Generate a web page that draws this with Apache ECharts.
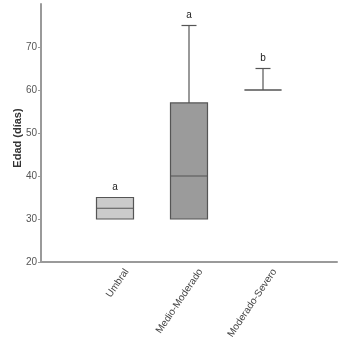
<!DOCTYPE html>
<html><head><meta charset="utf-8">
<script src="https://cdn.jsdelivr.net/npm/echarts@6/dist/echarts.min.js"></script>
<style>html,body{margin:0;padding:0;background:#fff}#c{width:340px;height:337px}</style>
</head><body><div id="c"></div>
<script>
var categories = ['Umbral', 'Medio-Moderado', 'Moderado-Severo'];
var whiskerLow = [30, 30, 60];
var q1 = [30, 30, 60];
var median = [32.5, 40, 60];
var q3 = [35, 57, 60];
var whiskerHigh = [35, 75, 65];
var letters = ['a', 'a', 'b'];
var yTicks = [20, 30, 40, 50, 60, 70];

var fills = ['#cbcbcb', '#9b9b9b', '#ffffff'];
var axisCats = [''].concat(categories).concat(['']);
var data = categories.map(function (c, i) {
  return [i + 1, whiskerLow[i], q1[i], median[i], q3[i], whiskerHigh[i], i];
});

var chart = echarts.init(document.getElementById('c'), null, {renderer: 'canvas'});
chart.setOption({
  animation: false,
  grid: {left: 41, right: 3, top: 4, bottom: 75, outerBoundsMode: 'none', containLabel: false},
  xAxis: {
    type: 'category', data: axisCats, boundaryGap: false,
    axisLine: {lineStyle: {color: '#9a9a9a', width: 2}},
    axisTick: {show: false},
    axisLabel: {interval: 0, rotate: 56, color: '#444', fontSize: 10, fontFamily: 'Liberation Sans',
      margin: 0, verticalAlign: 'top', lineHeight: 28}
  },
  yAxis: {
    type: 'value', min: 20, max: 80, interval: 10,
    name: 'Edad (días)', nameLocation: 'middle', nameGap: 18, nameMoveOverlap: false,
    nameTextStyle: {color: '#333', fontSize: 11, fontFamily: 'Liberation Sans', fontWeight: 'bold',
      verticalAlign: 'bottom', padding: [0, 10, 0, 0]},
    axisLine: {show: true, lineStyle: {color: '#9a9a9a', width: 2}},
    axisTick: {show: true, length: 3, customValues: yTicks, lineStyle: {color: '#9a9a9a'}},
    axisLabel: {customValues: yTicks, color: '#555', fontSize: 10, fontFamily: 'Liberation Sans', margin: 4},
    splitLine: {show: false}
  },
  series: [{
    type: 'custom',
    data: data,
    encode: {x: 0, y: [1, 2, 3, 4, 5]},
    renderItem: function (params, api) {
      var x = api.value(0);
      var i = api.value(6);
      var lo = api.coord([x, api.value(1)]);
      var b1 = api.coord([x, api.value(2)]);
      var md = api.coord([x, api.value(3)]);
      var b3 = api.coord([x, api.value(4)]);
      var hi = api.coord([x, api.value(5)]);
      var bw = api.size([1, 0])[0] * 0.5;
      var cw = 15;
      var cx = lo[0];
      var ls = {stroke: '#555', lineWidth: 1.2, fill: null};
      var ch = [];
      ch.push({type: 'rect', shape: {x: cx - bw / 2, y: b3[1], width: bw, height: Math.max(b1[1] - b3[1], 0)},
        style: {fill: fills[i], stroke: '#555', lineWidth: 1.2}});
      ch.push({type: 'line', shape: {x1: cx - bw / 2, y1: md[1], x2: cx + bw / 2, y2: md[1]}, style: ls});
      if (hi[1] < b3[1] - 0.5) {
        ch.push({type: 'line', shape: {x1: cx, y1: b3[1], x2: cx, y2: hi[1]}, style: ls});
        ch.push({type: 'line', shape: {x1: cx - cw / 2, y1: hi[1], x2: cx + cw / 2, y2: hi[1]}, style: ls});
      }
      if (lo[1] > b1[1] + 0.5) {
        ch.push({type: 'line', shape: {x1: cx, y1: b1[1], x2: cx, y2: lo[1]}, style: ls});
        ch.push({type: 'line', shape: {x1: cx - cw / 2, y1: lo[1], x2: cx + cw / 2, y2: lo[1]}, style: ls});
      }
      ch.push({type: 'text', style: {text: letters[i], x: cx, y: hi[1] - 5, align: 'center', verticalAlign: 'bottom',
        fill: '#222', font: '10px "Liberation Sans"'}});
      return {type: 'group', children: ch};
    }
  }]
});
</script></body></html>
